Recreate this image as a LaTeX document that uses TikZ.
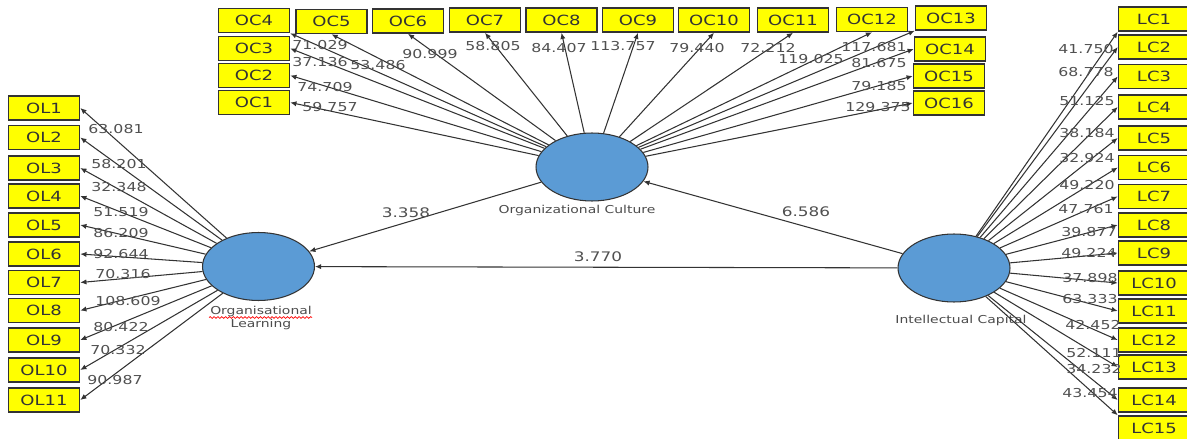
\documentclass[tikz,border=0pt]{standalone}
\usepackage{fontspec}
\setmainfont{DejaVu Sans}
\newfontfamily\widefont[FakeStretch=1.28]{DejaVu Sans}
\usetikzlibrary{shapes.geometric,arrows.meta,decorations.pathmorphing}
\definecolor{boxyellow}{HTML}{FFFF00}
\definecolor{ellblue}{HTML}{5B9BD5}
\definecolor{edgegray}{HTML}{333333}
\definecolor{numgray}{HTML}{505050}
\begin{document}
\begin{tikzpicture}[x=0.02cm,y=-0.02cm,
    ind/.style={draw=edgegray,line width=0.9pt,fill=boxyellow,minimum width=1.42cm,minimum height=0.48cm,inner sep=0pt,
      font=\widefont\fontsize{8}{9}\selectfont,text=black!80},
    lv/.style={ellipse,draw=edgegray,line width=0.6pt,fill=ellblue,minimum width=2.24cm,minimum height=1.36cm,inner sep=0pt},
    lvname/.style={font=\widefont\fontsize{6.2}{8}\selectfont,text=black!70,align=center,inner sep=0pt},
    load/.style={font=\widefont\fontsize{7}{8}\selectfont,text=numgray,inner sep=0pt},
    path/.style={font=\widefont\fontsize{7.5}{8}\selectfont,text=numgray,inner sep=0pt},
    con/.style={draw=edgegray,line width=0.6pt,-{Latex[length=3.5pt,width=3pt]}}]
        \useasboundingbox (0,0) rectangle (1187,439);
        % latent variables
        \node[lv] (OC) at (592,167) {};
        \node[lv] (OL) at (258.5,266.5) {};
        \node[lv] (IC) at (954,268) {};
        \node[lvname] (OCname) at (577,210) {Organizational Culture};
        \node[lvname] (OLname) at (261,318) {Organisational\\[-1pt]Learning};
        \node[lvname] (ICname) at (961,320) {Intellectual Capital};
        \draw[red,line width=0.4pt,decorate,decoration={snake,amplitude=0.5pt,segment length=2.2pt}] (209,317.5) -- (312,317.5);
        % organizational culture indicators
        \node[ind] (OC1) at (254,102.5) {OC1};
        \node[ind] (OC2) at (254,75.5) {OC2};
        \node[ind] (OC3) at (254,48.5) {OC3};
        \node[ind] (OC4) at (254,20.5) {OC4};
        \node[ind] (OC5) at (331.5,21.5) {OC5};
        \node[ind] (OC6) at (408,21) {OC6};
        \node[ind] (OC7) at (485,20) {OC7};
        \node[ind] (OC8) at (561.5,20) {OC8};
        \node[ind] (OC9) at (638,20) {OC9};
        \node[ind] (OC10) at (714,20) {OC10};
        \node[ind] (OC11) at (793,20) {OC11};
        \node[ind] (OC12) at (872,19.5) {OC12};
        \node[ind] (OC13) at (951,18) {OC13};
        \node[ind] (OC14) at (950,49) {OC14};
        \node[ind] (OC15) at (949,76) {OC15};
        \node[ind] (OC16) at (949,103) {OC16};
        \draw[con] (OC) -- (OC1.east);
        \draw[con] (OC) -- (OC2.east);
        \draw[con] (OC) -- (OC3.east);
        \draw[con] (OC) -- (OC4.south east);
        \draw[con] (OC) -- (OC5.south);
        \draw[con] (OC) -- (OC6.south);
        \draw[con] (OC) -- (OC7.south);
        \draw[con] (OC) -- (OC8.south);
        \draw[con] (OC) -- (OC9.south);
        \draw[con] (OC) -- (OC10.south);
        \draw[con] (OC) -- (OC11.south);
        \draw[con] (OC) -- (OC12.south);
        \draw[con] (OC) -- (OC13.south west);
        \draw[con] (OC) -- (OC14.west);
        \draw[con] (OC) -- (OC15.west);
        \draw[con] (OC) -- (OC16.west);
        \node[load] (oc1w) at (330,107) {59.757};
        \node[load] (oc2w) at (325,87) {74.709};
        \node[load] (oc3w) at (320,62) {37.136};
        \node[load] (oc4w) at (320,45) {71.029};
        \node[load] (oc5w) at (378,65) {53.486};
        \node[load] (oc6w) at (430,54) {90.999};
        \node[load] (oc7w) at (493,46) {58.805};
        \node[load] (oc8w) at (559,48) {84.407};
        \node[load] (oc9w) at (623,46) {113.757};
        \node[load] (oc10w) at (697,48) {79.440};
        \node[load] (oc11w) at (768,48) {72.212};
        \node[load] (oc12w) at (811,59) {119.025};
        \node[load] (oc13w) at (874,47) {117.681};
        \node[load] (oc14w) at (879,63) {81.675};
        \node[load] (oc15w) at (879,86) {79.185};
        \node[load] (oc16w) at (878,107) {129.375};
        % organisational learning indicators
        \node[ind] (OL1) at (44,108) {OL1};
        \node[ind] (OL2) at (44,137.5) {OL2};
        \node[ind] (OL3) at (44,168) {OL3};
        \node[ind] (OL4) at (44,196) {OL4};
        \node[ind] (OL5) at (44,225) {OL5};
        \node[ind] (OL6) at (44,254) {OL6};
        \node[ind] (OL7) at (44,282.5) {OL7};
        \node[ind] (OL8) at (44,310.5) {OL8};
        \node[ind] (OL9) at (44,340) {OL9};
        \node[ind] (OL10) at (44,370) {OL10};
        \node[ind] (OL11) at (44,400) {OL11};
        \draw[con] (OL) -- (OL1.east);
        \draw[con] (OL) -- (OL2.east);
        \draw[con] (OL) -- (OL3.east);
        \draw[con] (OL) -- (OL4.east);
        \draw[con] (OL) -- (OL5.east);
        \draw[con] (OL) -- (OL6.east);
        \draw[con] (OL) -- (OL7.east);
        \draw[con] (OL) -- (OL8.east);
        \draw[con] (OL) -- (OL9.east);
        \draw[con] (OL) -- (OL10.east);
        \draw[con] (OL) -- (OL11.east);
        \node[load] (ol1w) at (116,129) {63.081};
        \node[load] (ol2w) at (119,164) {58.201};
        \node[load] (ol3w) at (119,187) {32.348};
        \node[load] (ol4w) at (121,212) {51.519};
        \node[load] (ol5w) at (121,233) {86.209};
        \node[load] (ol6w) at (121,254) {92.644};
        \node[load] (ol7w) at (123,274) {70.316};
        \node[load] (ol8w) at (128,301) {108.609};
        \node[load] (ol9w) at (121,327) {80.422};
        \node[load] (ol10w) at (118,350) {70.332};
        \node[load] (ol11w) at (115,380) {90.987};
        % intellectual capital indicators
        \node[ind] (LC1) at (1154,19) {LC1};
        \node[ind] (LC2) at (1154,47) {LC2};
        \node[ind] (LC3) at (1154,76.5) {LC3};
        \node[ind] (LC4) at (1154,107) {LC4};
        \node[ind] (LC5) at (1154,138) {LC5};
        \node[ind] (LC6) at (1154,167.5) {LC6};
        \node[ind] (LC7) at (1154,196.5) {LC7};
        \node[ind] (LC8) at (1154,225) {LC8};
        \node[ind] (LC9) at (1154,253) {LC9};
        \node[ind] (LC10) at (1154,283) {LC10};
        \node[ind] (LC11) at (1154,311) {LC11};
        \node[ind] (LC12) at (1154,340) {LC12};
        \node[ind] (LC13) at (1154,367) {LC13};
        \node[ind] (LC14) at (1154,400) {LC14};
        \node[ind] (LC15) at (1154,428) {LC15};
        \draw[con] (IC) -- (LC1.south west);
        \draw[con] (IC) -- (LC2.west);
        \draw[con] (IC) -- (LC3.west);
        \draw[con] (IC) -- (LC4.west);
        \draw[con] (IC) -- (LC5.west);
        \draw[con] (IC) -- (LC6.west);
        \draw[con] (IC) -- (LC7.west);
        \draw[con] (IC) -- (LC8.west);
        \draw[con] (IC) -- (LC9.west);
        \draw[con] (IC) -- (LC10.west);
        \draw[con] (IC) -- (LC11.west);
        \draw[con] (IC) -- (LC12.west);
        \draw[con] (IC) -- (LC13.west);
        \draw[con] (IC) -- (LC14.west);
        \draw[con] (IC) -- (LC15.north west);
        \node[load] (lc1w) at (1086,49) {41.750};
        \node[load] (lc2w) at (1086,72) {68.778};
        \node[load] (lc3w) at (1087,101) {51.125};
        \node[load] (lc4w) at (1087,133) {38.184};
        \node[load] (lc5w) at (1087,158) {32.924};
        \node[load] (lc6w) at (1087,185) {49.220};
        \node[load] (lc7w) at (1086,209) {47.761};
        \node[load] (lc8w) at (1089,232) {39.877};
        \node[load] (lc9w) at (1089,253) {49.224};
        \node[load] (lc10w) at (1090,278) {37.898};
        \node[load] (lc11w) at (1090,299) {63.333};
        \node[load] (lc12w) at (1093,325) {42.452};
        \node[load] (lc13w) at (1094,353) {52.111};
        \node[load] (lc14w) at (1094,369) {34.232};
        \node[load] (lc15w) at (1090,393) {43.454};
        % structural paths
        \draw[con] (OC) -- (OL);
        \draw[con] (IC) -- (OC);
        \draw[con] (IC) -- (OL);
        \node[path] (b1) at (406,213) {3.358};
        \node[path] (b2) at (806,212) {6.586};
        \node[path] (b3) at (598,257) {3.770};
    \end{tikzpicture}
\end{document}
